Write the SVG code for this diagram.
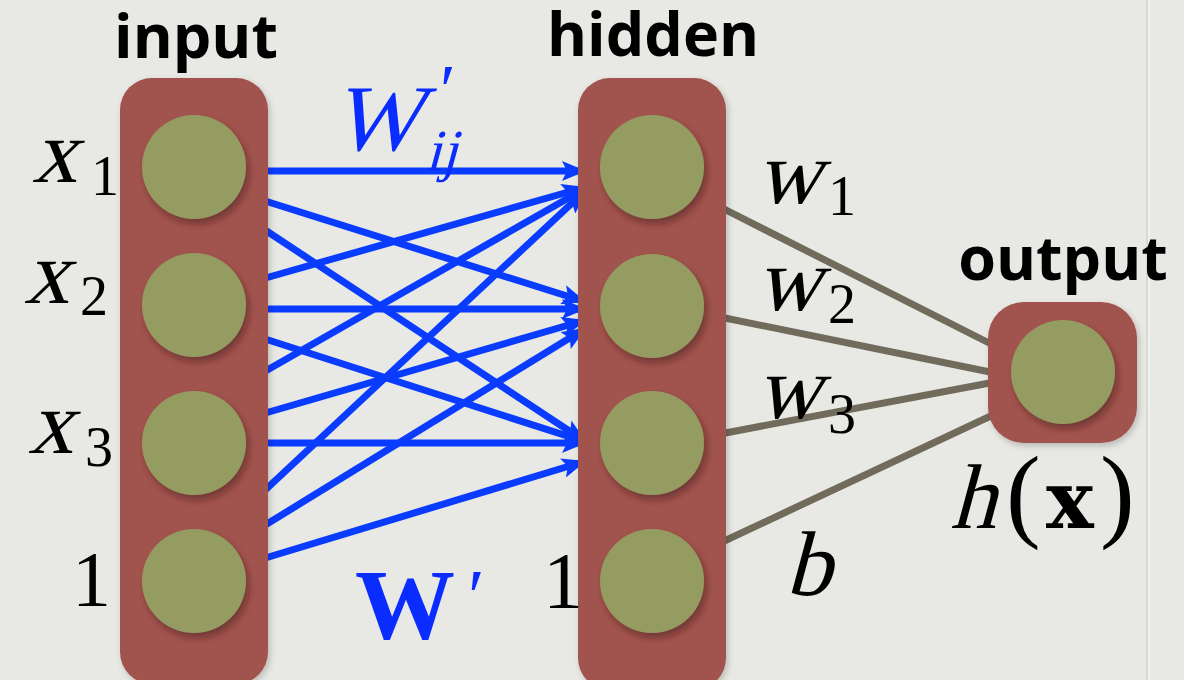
<svg xmlns="http://www.w3.org/2000/svg" width="1184" height="680" viewBox="0 0 1184 680">
<defs>
<style>
.col{fill:#a1534d;}
.unit{fill:#949c62;filter:url(#sh);}
.lbl{font-family:"Open Sans","DejaVu Sans",sans-serif;font-weight:700;font-size:61px;fill:#000;text-anchor:middle;}
.m{font-family:"Liberation Serif","DejaVu Serif",serif;fill:#000;}
.bx{font-family:"DejaVu Serif","Liberation Serif",serif;font-weight:700;fill:#000;}
.blue{fill:#0a2cff;}
.w{stroke:#0a3cff;stroke-width:7;fill:none;marker-end:url(#ah);}
.g{stroke:#706b5b;stroke-width:7;fill:none;}
</style>
<marker id="ah" viewBox="0 0 24 20" refX="24" refY="10" markerWidth="24" markerHeight="20" markerUnits="userSpaceOnUse" orient="auto">
<path d="M0,0 L24,10 L0,20 L5,10 z" fill="#0a3cff"/>
</marker>
<filter id="sh" x="-20%" y="-20%" width="150%" height="150%">
<feDropShadow dx="3" dy="5" stdDeviation="3" flood-color="#3a1a15" flood-opacity="0.45"/>
</filter>
<filter id="bsh" x="-10%" y="-10%" width="130%" height="130%">
<feDropShadow dx="2" dy="3" stdDeviation="3" flood-color="#000" flood-opacity="0.2"/>
</filter>
</defs>
<rect x="0" y="0" width="1184" height="680" fill="#e8e8e4"/>
<line x1="1147" y1="0" x2="1147" y2="680" stroke="#d9d9d4" stroke-width="2"/>
<line x1="1149" y1="0" x2="1149" y2="680" stroke="#f0f0ec" stroke-width="2"/>

<g id="connectors">
<line class="w" x1="262" y1="171" x2="586" y2="171"/>
<line class="w" x1="262" y1="279" x2="586" y2="187"/>
<line class="w" x1="262" y1="373" x2="586" y2="188"/>
<line class="w" x1="262" y1="493" x2="586" y2="190"/>
<line class="w" x1="262" y1="200" x2="586" y2="302"/>
<line class="w" x1="262" y1="309" x2="586" y2="309"/>
<line class="w" x1="262" y1="414" x2="586" y2="320"/>
<line class="w" x1="262" y1="527" x2="586" y2="328"/>
<line class="w" x1="262" y1="228" x2="586" y2="442"/>
<line class="w" x1="262" y1="338" x2="586" y2="442"/>
<line class="w" x1="262" y1="443" x2="586" y2="443"/>
<line class="w" x1="262" y1="559" x2="586" y2="461"/>
<line class="g" x1="720" y1="207" x2="995" y2="346"/>
<line class="g" x1="720" y1="317" x2="995" y2="373"/>
<line class="g" x1="720" y1="434" x2="995" y2="382"/>
<line class="g" x1="720" y1="543" x2="995" y2="414"/>
</g>

<g id="input">
<text class="lbl" x="196" y="58">input</text>
<rect class="col" x="120" y="78" width="148" height="606" rx="32" filter="url(#bsh)"/>
<circle class="unit" cx="194" cy="167" r="52"/>
<circle class="unit" cx="194" cy="305" r="52"/>
<circle class="unit" cx="194" cy="443" r="52"/>
<circle class="unit" cx="194" cy="581" r="52"/>
<text class="m" font-size="90" transform="translate(32,182) skewX(-15)">x</text>
<text class="m" x="91" y="195" font-size="56">1</text>
<text class="m" font-size="90" transform="translate(24,303) skewX(-15)">x</text>
<text class="m" x="80" y="315" font-size="56">2</text>
<text class="m" font-size="90" transform="translate(28,453) skewX(-15)">x</text>
<text class="m" x="85" y="466" font-size="56">3</text>
<text class="m" x="72" y="605" font-size="78">1</text>
</g>

<g id="hidden">
<text class="lbl" x="653" y="56">hidden</text>
<rect class="col" x="578" y="78" width="148" height="612" rx="32" filter="url(#bsh)"/>
<circle class="unit" cx="652" cy="167" r="52"/>
<circle class="unit" cx="652" cy="306" r="52"/>
<circle class="unit" cx="652" cy="443" r="52"/>
<circle class="unit" cx="652" cy="581" r="52"/>
<text class="m" x="543" y="608" font-size="80">1</text>
</g>

<g id="output">
<text class="lbl" x="1063" y="280">output</text>
<rect class="col" x="988" y="302" width="149" height="141" rx="36" filter="url(#bsh)"/>
<circle class="unit" cx="1063" cy="372" r="52"/>
<text class="m" font-size="92" transform="translate(950,528) skewX(-15)">h</text>
<text class="m" x="1006" y="528" font-size="104">(</text>
<text class="bx" x="1046" y="528" font-size="80">x</text>
<text class="m" x="1100" y="528" font-size="104">)</text>
</g>

<g id="weight-labels">
<text class="m blue" font-size="94" transform="translate(332,150) skewX(-15)">W</text>
<text class="m blue" x="440" y="114" font-size="72">′</text>
<text class="m blue" font-size="58" transform="translate(425,170) skewX(-15)">ij</text>
<text class="m blue" x="355" y="638" font-size="100" font-weight="700">W</text>
<text class="m blue" x="468" y="622" font-size="76">′</text>
<text class="m" font-size="90" transform="translate(756,203) skewX(-15)">w</text>
<text class="m" x="828" y="215" font-size="56">1</text>
<text class="m" font-size="90" transform="translate(756,310) skewX(-15)">w</text>
<text class="m" x="828" y="323" font-size="56">2</text>
<text class="m" font-size="90" transform="translate(756,418) skewX(-15)">w</text>
<text class="m" x="828" y="433" font-size="56">3</text>
<text class="m" font-size="92" transform="translate(785,595) skewX(-15)">b</text>
</g>
</svg>
